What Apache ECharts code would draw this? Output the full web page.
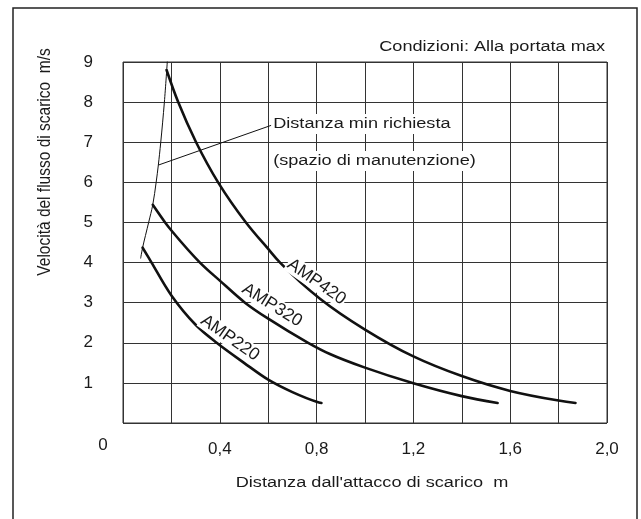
<!DOCTYPE html>
<html>
<head>
<meta charset="utf-8">
<script src="https://cdn.jsdelivr.net/npm/echarts@6/dist/echarts.min.js"></script>
<style>
html,body{margin:0;padding:0;background:#fff;}
#c{width:641px;height:519px;}
</style>
</head>
<body>
<div id="c"></div>
<script>
// ---- data (x: distance m, y: velocity m/s) ----
const amp420 = [[0.18,8.80],[0.228,8.0],[0.302,7.0],[0.393,6.0],[0.508,5.0],[0.6,4.34],[0.649,4.0],[0.814,3.1],[1.0,2.33],[1.2,1.66],[1.4,1.17],[1.6,0.8],[1.8,0.56],[1.87,0.5]];
const amp320 = [[0.123,5.44],[0.174,5.0],[0.2,4.80],[0.318,4.0],[0.4,3.55],[0.504,3.0],[0.6,2.6],[0.765,2.0],[0.855,1.72],[1.0,1.38],[1.2,0.99],[1.4,0.67],[1.548,0.5]];
const amp220 = [[0.081,4.37],[0.118,4.0],[0.2,3.18],[0.3,2.45],[0.387,2.0],[0.5,1.5],[0.6,1.08],[0.7,0.77],[0.8,0.53],[0.82,0.5]];
const minDistance = [[0.073,4.11],[0.081,4.37],[0.106,5.0],[0.123,5.44],[0.137,6.0],[0.146,6.43],[0.156,7.0],[0.171,8.0],[0.183,9.0]];
const leader = [[0.146,6.43],[0.612,7.42]];
const xTickLabels = ['0,4','0,8','1,2','1,6','2,0'];
const yTickLabels = ['1','2','3','4','5','6','7','8','9'];
const curveNames = ['AMP420','AMP320','AMP220'];
const curveLabelAnchors = [[0.80,3.52],[0.616,2.94],[0.442,2.12]];
const curveLabelAngles = [35,32,35];

const FONT = '"Liberation Sans", Arial, sans-serif';
const TXT = '#1a1a1a';
const SX = 1.17;

const chart = echarts.init(document.getElementById('c'), null, {renderer:'canvas'});

// centripetal Catmull-Rom path through pixel points
function crPath(P){
  const n = P.length;
  let d = 'M' + P[0][0] + ' ' + P[0][1];
  function dist(a,b){ return Math.hypot(a[0]-b[0], a[1]-b[1]); }
  for (let i=0;i<n-1;i++){
    const p0 = P[i>0?i-1:i], p1 = P[i], p2 = P[i+1], p3 = P[i+2<n?i+2:i+1];
    const l01 = Math.sqrt(dist(p0,p1)), l12 = Math.sqrt(dist(p1,p2)), l23 = Math.sqrt(dist(p2,p3));
    let c1 = [p1[0], p1[1]], c2 = [p2[0], p2[1]];
    if (l01 > 1e-9){
      const a = 2*l01*l01 + 3*l01*l12 + l12*l12, m = 3*l01*(l01+l12);
      c1 = [(p1[0]*a - p0[0]*l12*l12 + p2[0]*l01*l01)/m, (p1[1]*a - p0[1]*l12*l12 + p2[1]*l01*l01)/m];
    }
    if (l23 > 1e-9){
      const b = 2*l23*l23 + 3*l23*l12 + l12*l12, m = 3*l23*(l23+l12);
      c2 = [(p2[0]*b + p1[0]*l23*l23 - p3[0]*l12*l12)/m, (p2[1]*b + p1[1]*l23*l23 - p3[1]*l12*l12)/m];
    }
    d += ' C' + c1[0] + ' ' + c1[1] + ' ' + c2[0] + ' ' + c2[1] + ' ' + p2[0] + ' ' + p2[1];
  }
  return d;
}

function curveSeries(data, width){
  return {type:'custom', coordinateSystem:'cartesian2d', data:data, silent:true, z:3,
    encode:{x:0, y:1},
    renderItem:function(params, api){
      if (params.dataIndex !== 0) return null;
      const pts = data.map(function(p){ return api.coord(p); });
      return {type:'path', shape:{pathData:crPath(pts)},
        style:{fill:'none', stroke:'#111', lineWidth:width, lineCap:'round', lineJoin:'round'}};
    }};
}

const option = {
  backgroundColor:'#fff',
  animation:false,
  grid:{left:123, top:62, right:34, bottom:96, show:true, borderColor:'#333', borderWidth:1},
  xAxis:{type:'value', min:0, max:2.0, interval:0.2,
    axisLine:{show:false}, axisTick:{show:false},
    splitLine:{show:true, lineStyle:{color:'#333', width:1}},
    axisLabel:{margin:18, fontSize:17, color:TXT, fontFamily:FONT,
      formatter:function(v){
        const k = Math.round(v/0.4);
        if (k>=1 && Math.abs(v-k*0.4)<1e-6) return xTickLabels[k-1];
        return '';
      }}},
  yAxis:{type:'value', min:0, max:9, interval:1,
    axisLine:{show:false}, axisTick:{show:false},
    splitLine:{show:true, lineStyle:{color:'#333', width:1}},
    axisLabel:{margin:30, fontSize:17, color:TXT, fontFamily:FONT,
      formatter:function(v){ const k=Math.round(v); return k>=1 ? yTickLabels[k-1] : ''; }}},
  series:[
    curveSeries(amp420, 2.6),
    curveSeries(amp320, 2.6),
    curveSeries(amp220, 2.6),
    curveSeries(minDistance, 1),
    {type:'line', data:leader, showSymbol:false, silent:true, z:3, lineStyle:{color:'#111', width:1}}
  ]
};
chart.setOption(option);

function hText(x, y, text, align, bg){
  const st = {text:text, font:'15.5px '+FONT, fill:TXT, textAlign:align, textVerticalAlign:'middle'};
  if (bg){ st.backgroundColor='#fff'; st.padding=[2,1,2,1]; }
  return {type:'text', x:x, y:y, scaleX:SX, style:st, z:100};
}

const g = [
  {type:'rect', shape:{x:13, y:8, width:624, height:530}, style:{fill:'none', stroke:'#222', lineWidth:1.5}, z:100},
  hText(605, 47, 'Condizioni: Alla portata max', 'right', false),
  {type:'text', x:45, y:162, rotation:Math.PI/2, scaleY:SX, style:{text:'Velocità del flusso di scarico  m/s', font:'15.5px '+FONT, fill:TXT, textAlign:'center', textVerticalAlign:'middle'}, z:100},
  hText(372, 483, "Distanza dall'attacco di scarico  m", 'center', false),
  {type:'text', x:103, y:445, style:{text:'0', font:'17px '+FONT, fill:TXT, textAlign:'center', textVerticalAlign:'middle'}, z:100},
  hText(272, 124, 'Distanza min richiesta', 'left', true),
  hText(272, 161, '(spazio di manutenzione)', 'left', true)
];
curveNames.forEach(function(n,i){
  const p = chart.convertToPixel({gridIndex:0}, curveLabelAnchors[i]);
  g.push({type:'text', x:p[0], y:p[1], rotation:-curveLabelAngles[i]*Math.PI/180,
    style:{text:n, font:'17.5px '+FONT, fill:TXT, textAlign:'center', textVerticalAlign:'middle', backgroundColor:'#fff', padding:[0,1,0,1]}, z:100});
});
chart.setOption({graphic:g});
</script>
</body>
</html>
